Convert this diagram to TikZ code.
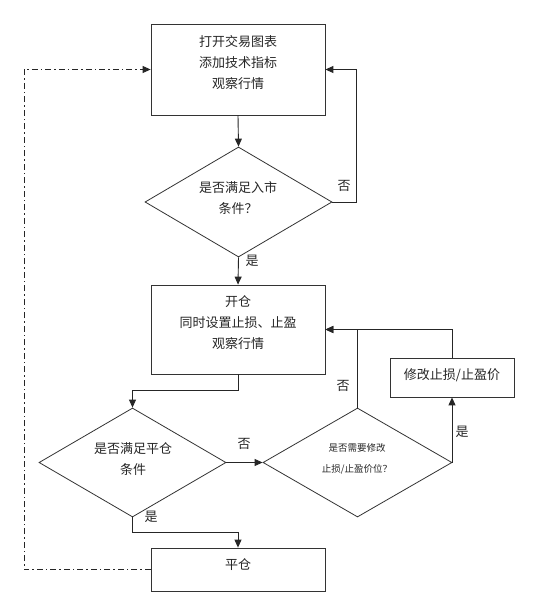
\documentclass[tikz,border=0pt]{standalone}
\usepackage{fontspec}
\newfontfamily\cjk{Noto Sans CJK SC}
\usetikzlibrary{shapes.geometric,arrows.meta,calc}
\begin{document}
\begin{tikzpicture}[x=1pt,y=-1pt,
  font=\cjk\fontsize{13}{21}\selectfont,
  box/.style={draw=black!80,line width=0.8pt,rectangle,inner sep=0pt},
  dia/.style={draw=black!80,line width=0.8pt,diamond,inner sep=0pt},
  txt/.style={align=center,inner sep=0pt,text=black!85},
  lab/.style={inner sep=0pt,text=black!85},
  conn/.style={draw=black!85,line width=0.9pt},
  arr/.style={conn,-{Triangle[length=8pt,width=7pt]}},
  dd/.style={draw=black!85,line width=0.9pt,dash pattern=on 6pt off 3pt on 1.5pt off 3pt,-{Triangle[length=8pt,width=7pt]}}
]
\useasboundingbox (0,0) rectangle (558,602);
\fill[white] (0,0) rectangle (558,602);
% boxes
\node[box,minimum width=174pt,minimum height=91pt] (b1) at (238,69.5) {};
\node[txt] (t1) at (238,62.5) {打开交易图表\\添加技术指标\\观察行情};
\node[dia,minimum width=187pt,minimum height=110pt] (d1) at (238.5,202) {};
\node[txt] (td1) at (238,198.5) {是否满足入市\\条件？};
\node[box,minimum width=174pt,minimum height=89pt] (b2) at (238,329.5) {};
\node[txt] (t2) at (238,323) {开仓\\同时设置止损、止盈\\观察行情};
\node[dia,minimum width=187pt,minimum height=109pt] (d2) at (132.5,462.5) {};
\node[txt] (td2) at (133,459) {是否满足平仓\\条件};
\node[dia,minimum width=189pt,minimum height=109pt] (d3) at (357.5,462.5) {};
\node[txt,font=\cjk\fontsize{9.5}{21}\selectfont] (td3) at (357,458.5) {是否需要修改\\止损/止盈价位？};
\node[box,minimum width=124pt,minimum height=39pt] (b4) at (452,377.5) {};
\node[txt] (t4) at (452,375) {修改止损/止盈价};
\node[box,minimum width=174pt,minimum height=43pt] (b3) at (238,569.5) {};
\node[txt] (t3) at (238,565) {平仓};
% labels
\node[lab] (l1) at (344,186) {否};
\node[lab] (l2) at (252,261) {是};
\node[lab] (l3) at (244,444) {否};
\node[lab] (l4) at (151,517) {是};
\node[lab] (l5) at (343,386) {否};
\node[lab] (l6) at (462,432) {是};
% coordinates
\coordinate (c1) at (356,69.5);
\coordinate (c2) at (24,69.5);
% connectors
\draw[arr] (b1.south) -- (d1.north);
\draw[arr] (d1.east) -| (c1) -- (b1.east);
\draw[arr] (d1.south) -- (b2.north);
\draw[arr] (b2.south) -- ++(0,16) -| (d2.north);
\draw[arr] (d2.south) -- ++(0,15) -| (b3.north);
\draw[arr] (d2.east) -- (d3.west);
\draw[arr] (d3.north) |- (b2.east);
\draw[arr] (d3.east) -| (b4.south);
\draw[arr] (b4.north) |- (b2.east);
\draw[dd] (b3.west) -| (c2) -- (b1.west);
\end{tikzpicture}
\end{document}
